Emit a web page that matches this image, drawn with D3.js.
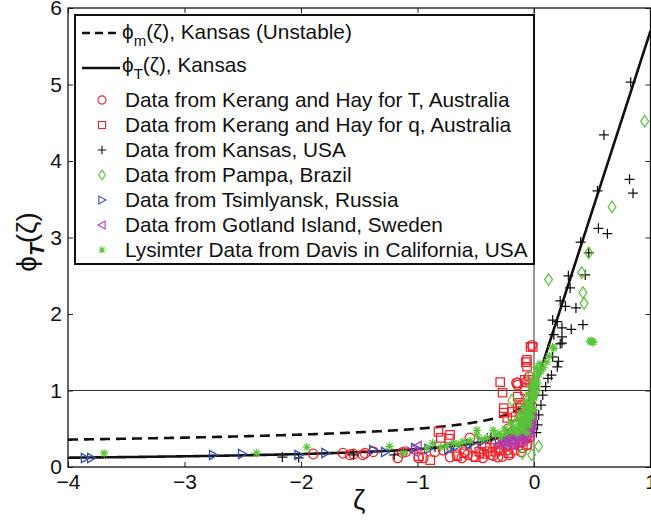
<!DOCTYPE html>
<html><head><meta charset="utf-8">
<script src="https://cdn.jsdelivr.net/npm/d3@7"></script>
<style>
html,body{margin:0;padding:0;background:#fff;}
svg{display:block;font-family:"Liberation Sans",Arial,Helvetica,sans-serif;}
</style></head><body>
<svg id="chart" width="651" height="523"></svg>
<script>
// ---------- data ----------
const xTicks = [-4, -3, -2, -1, 0, 1];
const yTicks = [0, 1, 2, 3, 4, 5, 6];

const legendLabels = [
  "Data from Kerang and Hay for T, Australia",
  "Data from Kerang and Hay for q, Australia",
  "Data from Kansas, USA",
  "Data from Pampa, Brazil",
  "Data from Tsimlyansk, Russia",
  "Data from Gotland Island, Sweden",
  "Lysimter Data from Davis in California, USA"
];

const kerangT = [[-1.895,0.17],[-1.64,0.18],[-1.58,0.16],[-1.55,0.17],[-1.47,0.16],[-1.45,0.18],[-1.38,0.20],[-1.17,0.12],[-1.13,0.19],[-1.10,0.20],[-0.99,0.12],[-0.95,0.12],[-0.85,0.20],[-0.78,0.22],[-0.72,0.13],[-0.66,0.16],[-0.60,0.20],[-0.55,0.38],[-0.50,0.25],[-0.46,0.18],[-0.42,0.28],[-0.37,0.16],[-0.33,0.30],[-0.31,0.13],[-0.28,0.22],[-0.25,0.35],[-0.23,0.22],[-0.20,0.45],[-0.18,0.30],[-0.16,0.55],[-0.14,0.39],[-0.12,0.33],[-0.10,0.25],[-0.09,0.60],[-0.08,0.45],[-0.07,0.75],[-0.06,0.29],[-0.05,0.90],[-0.04,0.38],[-0.03,0.61],[-0.03,1.10],[-0.02,1.59],[0.0,1.05],[-0.14,1.07],[-0.14,1.10],[-0.07,1.11],[-0.04,1.18],[-0.15,1.10],[-0.11,0.80],[-0.18,0.65],[-0.22,0.50],
  [-0.62,0.12],[-0.57,0.16],[-0.52,0.14],[-0.44,0.12],[-0.40,0.20],[-0.35,0.15],[-0.30,0.25],[-0.27,0.14],[-0.24,0.27],[-0.21,0.16],[-0.19,0.36],[-0.17,0.22],[-0.13,0.28],[-0.11,0.20],[-0.09,0.33],[-0.07,0.38],[-0.05,0.48],[-0.03,0.55],[-0.02,0.80],[-0.01,0.95]];

const kerangQ = [[-0.99,0.14],[-0.89,0.09],[-0.82,0.46],[-0.80,0.38],[-0.73,0.37],[-0.72,0.42],[-0.66,0.14],[-0.60,0.18],[-0.50,0.13],[-0.47,0.20],[-0.43,0.17],[-0.38,0.25],[-0.33,0.20],[-0.29,0.22],[-0.29,1.11],[-0.27,0.97],[-0.26,0.77],[-0.26,0.71],[-0.23,0.64],[-0.22,0.18],[-0.19,0.72],[-0.17,0.30],[-0.14,0.77],[-0.14,0.92],[-0.12,0.84],[-0.12,0.78],[-0.10,0.40],[-0.08,0.41],[-0.08,1.00],[-0.08,1.14],[-0.07,1.37],[-0.06,1.31],[-0.06,1.40],[-0.06,0.29],[-0.05,1.14],[-0.03,1.57],[-0.01,1.57],[-0.04,0.50],[-0.02,0.70],[-0.15,0.55]];

const kansas = [[-2.16,0.13],[-2.02,0.12],[-1.55,0.16],[-1.20,0.16],[-0.85,0.26],[-0.69,0.29],[-0.55,0.30],[-0.40,0.38],[-0.37,0.39],[-0.26,0.38],[-0.19,0.48],[-0.12,0.45],[-0.08,0.55],[-0.04,0.62],
  [0.02,0.45],[0.03,0.55],[0.04,0.68],[0.06,0.81],[0.075,0.94],[0.10,1.05],[0.12,1.16],[0.15,1.20],[0.20,1.31],[0.21,1.38],[0.16,1.44],[0.24,1.62],[0.225,1.61],[0.17,1.73],[0.24,1.70],[0.16,1.92],[0.20,1.90],[0.24,1.82],[0.32,1.80],[0.42,1.86],[0.225,2.17],[0.27,2.10],[0.36,2.08],[0.295,2.50],[0.31,2.34],[0.44,2.51],[0.40,2.94],[0.47,2.80],[0.553,3.12],[0.63,3.05],[0.545,3.61],[0.82,3.76],[0.85,3.58],[0.60,4.34],[0.83,5.03]];

const pampa = [[0.95,4.52],[0.67,3.40],[0.47,2.80],[0.41,2.54],[0.125,2.45],[0.42,2.28],[0.43,2.14],[-0.19,0.87],[0.04,0.27],[-0.02,0.16],[-0.10,0.18],[-0.03,1.18],[0.02,1.00],[-0.05,0.70]];

const tsimlyansk = [[-3.854,0.118],[-3.80,0.118],[-2.754,0.157],[-2.505,0.17],[-2.02,0.157],[-1.79,0.183],[-1.38,0.222],[-1.277,0.196],[-1.02,0.248],[-0.907,0.235],[-0.735,0.235],[-0.68,0.26],[-0.55,0.30],[-0.45,0.33],[-0.30,0.35],[-0.20,0.40],[-0.15,0.45],[-0.10,0.50],[-0.06,0.60],[-0.04,0.70]];

const gotland = [[-1.0,0.275],[-1.03,0.20],[-0.30,0.28],[-0.28,0.32],[-0.26,0.30],[-0.24,0.34],[-0.22,0.30],[-0.20,0.36],[-0.19,0.33],[-0.17,0.38],[-0.16,0.34],[-0.15,0.40],[-0.14,0.36],[-0.13,0.42],[-0.12,0.38],[-0.11,0.44],[-0.10,0.40],[-0.09,0.47],[-0.08,0.43],[-0.07,0.50],[-0.06,0.46],[-0.05,0.53],[-0.04,0.49],[-0.035,0.58],[-0.03,0.52],[-0.02,0.62],[-0.015,0.55],[-0.01,0.68],[-0.22,0.40],[-0.18,0.28],[-0.13,0.31],[-0.09,0.35],[-0.05,0.40],[-0.03,0.44]];

const lysimeter = [[-3.69,0.18],[-2.38,0.18],[-1.95,0.26],[-1.24,0.27],[-1.12,0.18],[-0.92,0.25],[-0.87,0.31],[-0.80,0.26],[-0.69,0.31],[-0.61,0.33],[-0.49,0.42],[-0.49,0.48],[-0.40,0.38],[-0.35,0.48],[-0.30,0.44],[-0.25,0.50],[-0.20,0.58],[-0.18,0.52],[-0.15,0.62],[-0.13,0.55],[-0.12,0.70],[-0.10,0.64],[-0.09,0.78],[-0.08,0.70],[-0.07,0.86],[-0.06,0.76],[-0.05,0.95],[-0.04,0.84],[-0.03,1.05],[-0.02,0.92],[-0.01,1.02],[0.0,1.12],[0.01,1.0],[0.02,1.18],[0.03,1.10],[0.04,1.22],[0.06,1.25],[0.08,1.30],[0.11,1.37],[0.13,1.45],[0.16,1.57],[0.17,1.55],[0.48,1.64],[0.50,1.64],[0.51,1.63],[0.49,1.65],[-0.06,0.45],[-0.04,0.55],[-0.02,0.65],[0.0,0.75],[-0.10,0.48],[-0.14,0.44],[0.0,0.90],[0.02,1.30],[0.05,1.35],
  [-0.12,0.50],[-0.11,0.56],[-0.09,0.60],[-0.08,0.52],[-0.07,0.62],[-0.06,0.68],[-0.05,0.60],[-0.04,0.72],[-0.03,0.80],[-0.03,0.66],[-0.02,0.78],[-0.02,0.85],[-0.01,0.88],[-0.01,0.95],[0.0,1.0],[0.0,1.05],[0.01,1.10],[0.01,1.15],[0.02,1.05],[0.03,1.25],[-0.16,0.48],[-0.20,0.46],[-0.24,0.44],[-0.28,0.40],[-0.33,0.42],[-0.45,0.36],[-0.55,0.34],[-0.65,0.30],[-0.75,0.28]];

// Businger–Dyer (Kansas) curves
const phiM = z => Math.pow(1 - 15 * z, -0.25);
const phiT = z => z < 0 ? 0.74 * Math.pow(1 - 9 * z, -0.5) : 1 + 4.7 * z;

// ---------- layout ----------
const svg = d3.select("#chart");
const L = 68, R = 650.5, T = 8, B = 467;
const x = d3.scaleLinear().domain([-4, 1]).range([L, R]);
const y = d3.scaleLinear().domain([0, 6]).range([B, T]);

const clipId = "clipPlot";
svg.append("clipPath").attr("id", clipId).append("rect")
  .attr("x", L).attr("y", T).attr("width", R - L).attr("height", B - T);

// reference lines
svg.append("line").attr("x1", L).attr("x2", R).attr("y1", y(1)).attr("y2", y(1))
  .attr("stroke", "#333").attr("stroke-width", 1);
svg.append("line").attr("x1", x(0)).attr("x2", x(0)).attr("y1", T).attr("y2", B)
  .attr("stroke", "#333").attr("stroke-width", 1);

const plot = svg.append("g").attr("clip-path", `url(#${clipId})`);

// curves
const zUnst = d3.range(-4, 0.0001, 0.01).map(v => Math.min(v, 0));
const zT = d3.range(-4, 0, 0.005).concat(d3.range(0, 1.0001, 0.01));
const line = d3.line().x(d => x(d[0])).y(d => y(d[1]));
plot.append("path").datum(zUnst.map(z => [z, phiM(z)])).attr("d", line)
  .attr("fill", "none").attr("stroke", "#111").attr("stroke-width", 2.6).attr("stroke-dasharray", "10,6");
plot.append("path").datum(zT.map(z => [z, phiT(z)])).attr("d", line)
  .attr("fill", "none").attr("stroke", "#111").attr("stroke-width", 2.6);

// marker shapes
const red = "#f2222a", black = "#111", green = "#5cc43a", blue = "#2f4fb0", magenta = "#b03cb0";
const shapes = {
  circle: s => `M${s},0A${s},${s} 0 1,1 ${-s},0A${s},${s} 0 1,1 ${s},0Z`,
  square: s => `M${-s},${-s}H${s}V${s}H${-s}Z`,
  plus: s => `M${-s},0H${s}M0,${-s}V${s}`,
  diamond: s => `M0,${-s*1.25}L${s*0.85},0L0,${s*1.25}L${-s*0.85},0Z`,
  tright: s => `M${s},0L${-s*0.8},${-s}L${-s*0.8},${s}Z`,
  tleft: s => `M${-s},0L${s*0.8},${-s}L${s*0.8},${s}Z`,
  star: s => { const d = s * 0.7071; return `M${-s},0H${s}M0,${-s}V${s}M${-d},${-d}L${d},${d}M${-d},${d}L${d},${-d}`; }
};
const series = [
  {data: kerangT, shape: "circle", size: 4.8, color: red},
  {data: kerangQ, shape: "square", size: 4.2, color: red},
  {data: kansas, shape: "plus", size: 5.0, color: black},
  {data: pampa, shape: "diamond", size: 4.6, color: green},
  {data: tsimlyansk, shape: "tright", size: 4.6, color: blue},
  {data: gotland, shape: "tleft", size: 4.6, color: magenta},
  {data: lysimeter, shape: "star", size: 4.2, color: green}
];
series.forEach(s => {
  plot.append("g").selectAll("path").data(s.data).join("path")
    .attr("transform", d => `translate(${x(d[0])},${y(d[1])})`)
    .attr("d", shapes[s.shape](s.size))
    .attr("fill", "none").attr("stroke", s.color).attr("stroke-width", 1.25);
});

// axes
const fs = 21;
const fmt = d3.format("d");
const axB = svg.append("g").attr("transform", `translate(0,${B})`)
  .call(d3.axisBottom(x).tickValues(xTicks).tickFormat(fmt).tickSizeInner(-5).tickSizeOuter(0).tickPadding(7));
const axL = svg.append("g").attr("transform", `translate(${L},0)`)
  .call(d3.axisLeft(y).tickValues(yTicks).tickFormat(fmt).tickSizeInner(-5).tickSizeOuter(0).tickPadding(6));
const axT = svg.append("g").attr("transform", `translate(0,${T})`)
  .call(d3.axisTop(x).tickValues(xTicks).tickSizeInner(-5).tickSizeOuter(0).tickFormat(""));
const axR = svg.append("g").attr("transform", `translate(${R},0)`)
  .call(d3.axisRight(y).tickValues(yTicks).tickSizeInner(-5).tickSizeOuter(0).tickFormat(""));
[axB, axL, axT, axR].forEach(a => {
  a.select(".domain").remove();
  a.selectAll("line").attr("stroke", "#222").attr("stroke-width", 1);
  a.selectAll("text").attr("font-size", fs).attr("fill", "#111")
    .attr("font-family", '"Liberation Sans",Arial,sans-serif');
});
svg.append("rect").attr("x", L).attr("y", T).attr("width", R - L).attr("height", B - T)
  .attr("fill", "none").attr("stroke", "#111").attr("stroke-width", 1.3);

// axis labels
svg.append("text").attr("x", x(-1.5)).attr("y", 509).attr("text-anchor", "middle")
  .attr("font-size", 28).attr("fill", "#111").text("ζ");
const yl = svg.append("text").attr("transform", "translate(36,242) rotate(-90)")
  .attr("text-anchor", "middle").attr("font-size", 28).attr("fill", "#111");
yl.append("tspan").text("ϕ");
yl.append("tspan").attr("dy", 8).attr("font-size", 21).attr("font-weight", "bold").attr("font-style", "italic").text("T");
yl.append("tspan").attr("dy", -8).text("(ζ)");

// legend
const lg = svg.append("g");
const lx = 75, ly = 15, lw = x(0) - 75, lh = 264 - 15;
lg.append("rect").attr("x", lx).attr("y", ly).attr("width", lw).attr("height", lh)
  .attr("fill", "#fff").attr("stroke", "#111").attr("stroke-width", 2);
const lfs = 20.8;
// curve entries
lg.append("line").attr("x1", 82).attr("x2", 120).attr("y1", 33).attr("y2", 33)
  .attr("stroke", "#111").attr("stroke-width", 2.6).attr("stroke-dasharray", "8,5");
const t1 = lg.append("text").attr("x", 122).attr("y", 39).attr("font-size", lfs).attr("fill", "#111");
t1.append("tspan").text("ϕ");
t1.append("tspan").attr("dy", 7).attr("font-size", 15).text("m");
t1.append("tspan").attr("dy", -7).text("(ζ), Kansas (Unstable)");
lg.append("line").attr("x1", 82).attr("x2", 120).attr("y1", 68).attr("y2", 68)
  .attr("stroke", "#111").attr("stroke-width", 2.6);
const t2 = lg.append("text").attr("x", 122).attr("y", 72).attr("font-size", lfs).attr("fill", "#111");
t2.append("tspan").text("ϕ");
t2.append("tspan").attr("dy", 7).attr("font-size", 15).text("T");
t2.append("tspan").attr("dy", -7).text("(ζ), Kansas");
series.forEach((s, i) => {
  const cy = 100 + i * 25;
  lg.append("path").attr("transform", `translate(102,${cy})`).attr("d", shapes[s.shape](s.size * 0.85))
    .attr("fill", "none").attr("stroke", s.color).attr("stroke-width", 1.1);
  lg.append("text").attr("x", 125).attr("y", cy + 7).attr("font-size", lfs).attr("fill", "#111").text(legendLabels[i]);
});
</script>
</body></html>
